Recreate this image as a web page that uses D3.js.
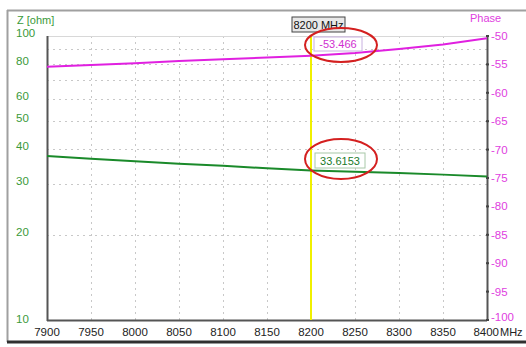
<!DOCTYPE html>
<html><head><meta charset="utf-8">
<script src="https://cdn.jsdelivr.net/npm/d3@7"></script>
<style>html,body{margin:0;padding:0;background:#fff;}svg{display:block;font-family:"Liberation Sans",Arial,sans-serif;}</style>
</head><body>
<script>
const freqs = [7900,7950,8000,8050,8100,8150,8200,8250,8300,8350,8400];
const zValues = [37.8,37.0,36.2,35.5,34.9,34.2,33.6153,33.3,32.9,32.5,32.0];
const phaseValues = [-55.4,-55.1,-54.8,-54.4,-54.1,-53.8,-53.466,-53.0,-52.3,-51.5,-50.4];
const xTicks = [7900,7950,8000,8050,8100,8150,8200,8250,8300,8350,8400];
const zTickLabels = [100,80,60,50,40,30,20,10];
const zGrid = [20,30,40,50,60,70,80,90];
const phaseTicks = [-50,-55,-60,-65,-70,-75,-80,-85,-90,-95,-100];
const markerFreq = 8200;
const markerLabel = "8200 MHz";
const markerZ = "33.6153";
const markerPhase = "-53.466";

const W=526,H=347;
const L=47,R=487,T=36,B=320;
const svg=d3.select("body").append("svg").attr("width",W).attr("height",H);
const x=d3.scaleLinear().domain([7900,8400]).range([L,R]);
const yz=d3.scaleLog().domain([10,100]).range([B,T]);
const yp=d3.scaleLinear().domain([-100,-50]).range([B,T]);

// outer frame
svg.append("line").attr("x1",7).attr("x2",W).attr("y1",10.5).attr("y2",10.5).attr("stroke","#a0a0a0").attr("stroke-width",2);
svg.append("line").attr("x1",7.5).attr("x2",7.5).attr("y1",10).attr("y2",342).attr("stroke","#a0a0a0").attr("stroke-width",2);
svg.append("line").attr("x1",7).attr("x2",W).attr("y1",342).attr("y2",342).attr("stroke","#303030").attr("stroke-width",3);

// grid
const g=svg.append("g");
g.selectAll(".vg").data(xTicks.slice(1,-1)).join("line")
 .attr("x1",d=>x(d)+0.5).attr("x2",d=>x(d)+0.5).attr("y1",T).attr("y2",B)
 .attr("stroke","#c8c8c8").attr("stroke-dasharray","2,4");
g.selectAll(".hg").data(zGrid).join("line")
 .attr("x1",L).attr("x2",R).attr("y1",d=>Math.round(yz(d))+0.5).attr("y2",d=>Math.round(yz(d))+0.5)
 .attr("stroke","#c8c8c8").attr("stroke-dasharray","2,4");
svg.append("line").attr("x1",L).attr("x2",R).attr("y1",T+0.5).attr("y2",T+0.5).attr("stroke","#d8d8d8");

// axes lines
svg.append("line").attr("x1",L+0.5).attr("x2",L+0.5).attr("y1",T).attr("y2",B+1).attr("stroke","#555").attr("stroke-width",2);
svg.append("line").attr("x1",L).attr("x2",R).attr("y1",B+0.5).attr("y2",B+0.5).attr("stroke","#555").attr("stroke-width",2);
svg.append("line").attr("x1",R+0.5).attr("x2",R+0.5).attr("y1",T).attr("y2",B+1).attr("stroke","#555").attr("stroke-width",2);
svg.selectAll(".rt").data(phaseTicks).join("rect")
 .attr("x",R-1).attr("y",d=>yp(d)-1).attr("width",3).attr("height",2).attr("fill","#444");

// marker line
svg.append("line").attr("x1",x(markerFreq)).attr("x2",x(markerFreq)).attr("y1",T).attr("y2",B)
 .attr("stroke","#f0f000").attr("stroke-width",2);

// lines
const lz=d3.line().x((d,i)=>x(freqs[i])).y(d=>yz(d));
const lp=d3.line().x((d,i)=>x(freqs[i])).y(d=>yp(d));
svg.append("path").attr("d",lz(zValues)).attr("fill","none").attr("stroke","#1a8a2a").attr("stroke-width",2);
svg.append("path").attr("d",lp(phaseValues)).attr("fill","none").attr("stroke","#e020e0").attr("stroke-width",2);

// tick labels
svg.selectAll(".xl").data(xTicks).join("text")
 .attr("x",d=>d===8400? 499 : x(d)).attr("y",335.5)
 .attr("text-anchor",d=>d===8400?"end":"middle").attr("font-size",11.5).attr("fill","#222")
 .text(d=>d);
svg.append("text").attr("x",500).attr("y",335.5).attr("font-size",11).attr("fill","#222").text("MHz");
svg.selectAll(".zl").data(zTickLabels).join("text")
 .attr("x",16).attr("y",d=>d===100?37:(d===10?323:yz(d)+1)).attr("font-size",11.5).attr("fill","#3a9a3a").text(d=>d);
svg.append("text").attr("x",17).attr("y",24).attr("font-size",11).attr("fill","#3a9a3a").text("Z [ohm]");
svg.selectAll(".pl").data(phaseTicks).join("text")
 .attr("x",491).attr("y",d=>d===-100? 320.5 : yp(d)+4).attr("font-size",11.5).attr("fill","#e040e0").text(d=>d);
svg.append("text").attr("x",470).attr("y",22).attr("font-size",11).attr("fill","#e040e0").text("Phase");

// marker labels
const mb=svg.append("g");
mb.append("rect").attr("x",292).attr("y",17).attr("width",53).attr("height",15).attr("fill","#e8e8e8").attr("stroke","#444");
mb.append("text").attr("x",318.5).attr("y",29).attr("text-anchor","middle").attr("font-size",11).attr("fill","#111").text(markerLabel);
mb.append("rect").attr("x",314).attr("y",37).attr("width",48).attr("height",14).attr("fill","#fff").attr("stroke","#c8b0e0");
mb.append("text").attr("x",338).attr("y",48).attr("text-anchor","middle").attr("font-size",11).attr("fill","#d030d0").text(markerPhase);
mb.append("rect").attr("x",315).attr("y",153).attr("width",50).attr("height",15).attr("fill","#fff").attr("stroke","#a8c8a8");
mb.append("text").attr("x",340).attr("y",165).attr("text-anchor","middle").attr("font-size",11).attr("fill","#1a7a2a").text(markerZ);

// ellipses
svg.append("ellipse").attr("cx",341).attr("cy",45).attr("rx",36).attr("ry",17).attr("fill","none").attr("stroke","#d42020").attr("stroke-width",2);
svg.append("ellipse").attr("cx",341).attr("cy",159).attr("rx",36).attr("ry",20).attr("fill","none").attr("stroke","#d42020").attr("stroke-width",2);
</script>
</body></html>
